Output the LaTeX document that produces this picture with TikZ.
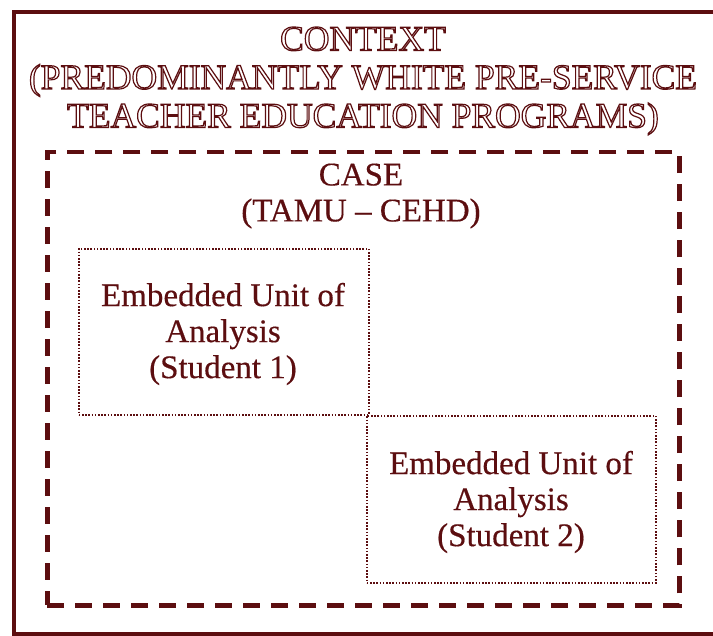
\documentclass[tikz,border=0pt]{standalone}
\usepackage{fontspec}
\setmainfont{Liberation Serif}
\definecolor{maroon}{HTML}{5C0E10}
\newcommand{\engrave}[1]{{\color{maroon}\special{pdf:literal direct 1 Tr 1.2 w}#1\special{pdf:literal direct 0 Tr}}}
\begin{document}
\begin{tikzpicture}[x=1pt,y=-1pt,
  frame/.style={draw=maroon,line width=4pt},
  casebox/.style={draw=maroon,line width=4.5pt,dash pattern=on 17pt off 11pt},
  unitbox/.style={draw=maroon,line width=1.6pt,dash pattern=on 1.6pt off 1.6pt},
  txt/.style={text=maroon,align=center,font=\fontsize{33}{36}\selectfont\addfontfeature{FakeBold=0.4}},
  ttl/.style={align=center,font=\fontsize{35.5}{38.5}\selectfont}]
\useasboundingbox (0,0) rectangle (713,636);
\begin{scope}
\clip (0,0) rectangle (713,636);
\node[frame,minimum width=708pt,minimum height=622pt,anchor=north west,inner sep=0pt] (context) at (12,10) {};
\end{scope}
\node[casebox,minimum width=632pt,minimum height=453pt,anchor=north west,inner sep=0pt] (case) at (45,150) {};
\node[unitbox,minimum width=290pt,minimum height=166pt,anchor=north west,inner sep=0pt] (u1) at (78,248) {};
\node[unitbox,minimum width=289pt,minimum height=167pt,anchor=north west,inner sep=0pt] (u2) at (366,415) {};
\node[ttl] (ctitle) at (363,81) {\engrave{CONTEXT}\\
\engrave{(PREDOMINANTLY WHITE PRE-SERVICE}\\
\engrave{TEACHER EDUCATION PROGRAMS)}};
\node[txt] (casetitle) at (361,196) {CASE\\(TAMU -- CEHD)};
\node[txt] (u1text) at (223,334) {Embedded Unit of\\Analysis\\(Student 1)};
\node[txt] (u2text) at (511,502) {Embedded Unit of\\Analysis\\(Student 2)};
\end{tikzpicture}
\end{document}
